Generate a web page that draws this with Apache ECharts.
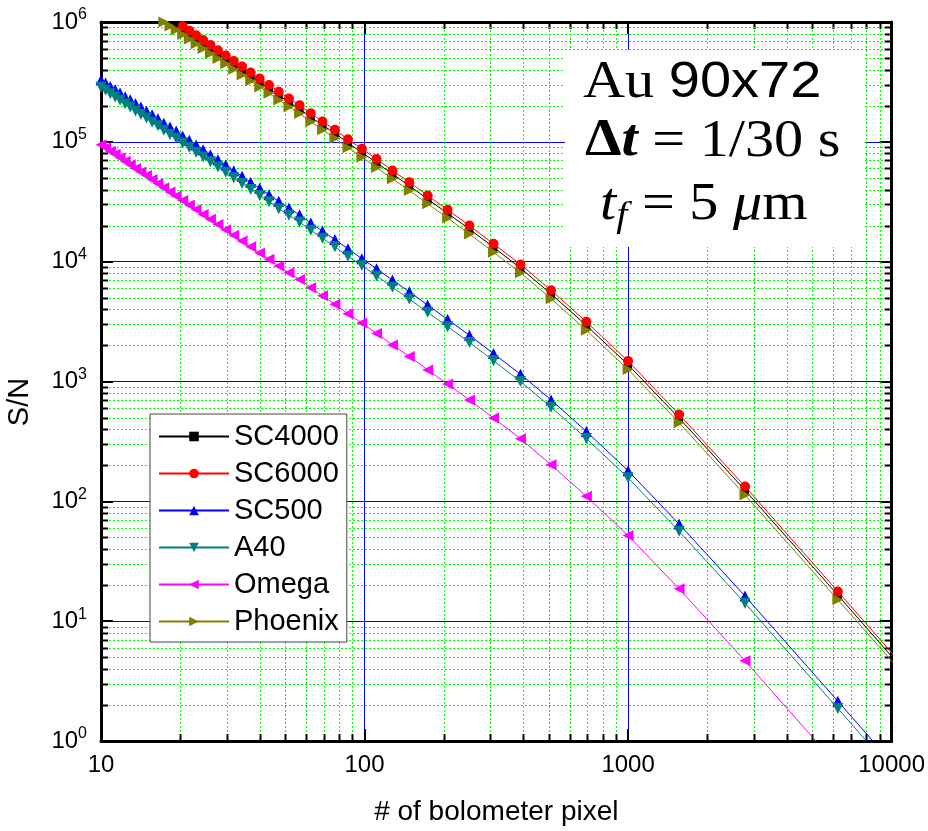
<!DOCTYPE html>
<html>
<head>
<meta charset="utf-8">
<script src="https://cdn.jsdelivr.net/npm/echarts@6/dist/echarts.min.js"></script>
<style>
    html, body { margin: 0; padding: 0; background: #fff; }
    #chart { width: 928px; height: 831px; }
</style>
</head>
<body>
<div id="chart"></div>
<script>
// # of bolometer pixel (x)
const pixels = [10, 10.41, 10.85, 11.32, 11.81, 12.35, 12.91, 13.52, 14.17, 14.87, 15.63, 16.44, 17.31, 18.26, 19.29,
    20.41, 21.63, 22.96, 24.41, 26.01, 27.78, 29.73, 31.89, 34.29, 36.98, 40, 43.4, 47.26, 51.65, 56.69, 62.5, 69.25,
    77.16, 86.51, 97.66, 111.1, 127.6, 147.9, 173.6, 206.6, 250, 308.6, 390.6, 510.2, 694.4, 1000, 1562, 2778, 6250, 25000];

// S/N for each camera
const sc4000 = [2.52e6, 2.37e6, 2.22e6, 2.09e6, 1.96e6, 1.83e6, 1.72e6, 1.60e6, 1.49e6, 1.39e6, 1.29e6, 1.19e6, 1.10e6, 1.02e6, 9.42e5,
    8.63e5, 7.90e5, 7.22e5, 6.59e5, 6.00e5, 5.43e5, 4.91e5, 4.41e5, 3.97e5, 3.54e5, 3.14e5, 2.78e5, 2.44e5, 2.15e5, 1.88e5, 1.61e5, 1.38e5,
    1.18e5, 9.80e4, 8.16e4, 6.70e4, 5.38e4, 4.30e4, 3.33e4, 2.53e4, 1.87e4, 1.32e4, 8840, 5380, 2940, 1380, 495, 124, 16.5, 0.51];
const sc6000 = [2.70e6, 2.54e6, 2.38e6, 2.24e6, 2.10e6, 1.96e6, 1.84e6, 1.71e6, 1.60e6, 1.49e6, 1.38e6, 1.28e6, 1.18e6, 1.09e6, 1.01e6,
    9.25e5, 8.47e5, 7.74e5, 7.06e5, 6.43e5, 5.82e5, 5.26e5, 4.73e5, 4.25e5, 3.79e5, 3.37e5, 2.98e5, 2.62e5, 2.30e5, 2.02e5, 1.73e5, 1.48e5,
    1.26e5, 1.05e5, 8.75e4, 7.18e4, 5.77e4, 4.61e4, 3.57e4, 2.71e4, 2.00e4, 1.41e4, 9480, 5770, 3150, 1480, 531, 133, 17.7, 0.55];
const sc500 = [3.28e5, 3.09e5, 2.89e5, 2.72e5, 2.55e5, 2.38e5, 2.24e5, 2.08e5, 1.95e5, 1.81e5, 1.68e5, 1.56e5, 1.43e5, 1.33e5, 1.23e5,
    1.12e5, 1.03e5, 9.41e4, 8.58e4, 7.82e4, 7.08e4, 6.40e4, 5.75e4, 5.17e4, 4.61e4, 4.10e4, 3.62e4, 3.19e4, 2.80e4, 2.46e4, 2.10e4, 1.80e4,
    1.53e4, 1.28e4, 1.06e4, 8730, 7020, 5610, 4340, 3300, 2430, 1710, 1150, 702, 383, 180, 64.6, 16.2, 2.15, 0.067];
const a40 = [2.86e5, 2.69e5, 2.52e5, 2.37e5, 2.22e5, 2.08e5, 1.95e5, 1.81e5, 1.69e5, 1.58e5, 1.46e5, 1.36e5, 1.25e5, 1.15e5, 1.07e5,
    9.80e4, 8.97e4, 8.20e4, 7.48e4, 6.81e4, 6.16e4, 5.57e4, 5.01e4, 4.50e4, 4.01e4, 3.57e4, 3.16e4, 2.77e4, 2.44e4, 2.14e4, 1.83e4, 1.57e4,
    1.33e4, 1.11e4, 9270, 7600, 6110, 4880, 3780, 2870, 2120, 1490, 1000, 611, 334, 157, 56.2, 14.1, 1.87, 0.058];
const omega = [9.47e4, 8.91e4, 8.35e4, 7.86e4, 7.37e4, 6.88e4, 6.45e4, 6.00e4, 5.61e4, 5.23e4, 4.84e4, 4.49e4, 4.14e4, 3.82e4, 3.54e4,
    3.24e4, 2.97e4, 2.72e4, 2.48e4, 2.26e4, 2.04e4, 1.85e4, 1.66e4, 1.49e4, 1.33e4, 1.18e4, 1.05e4, 9190, 8070, 7090, 6070, 5190,
    4420, 3680, 3070, 2520, 2020, 1620, 1250, 951, 702, 495, 333, 202, 110, 51.9, 18.6, 4.67, 0.62, 0.019];
const phoenix = [2.30e6, 2.16e6, 2.03e6, 1.91e6, 1.79e6, 1.67e6, 1.57e6, 1.46e6, 1.36e6, 1.27e6, 1.17e6, 1.09e6, 1.00e6, 9.28e5, 8.60e5,
    7.87e5, 7.21e5, 6.59e5, 6.01e5, 5.47e5, 4.95e5, 4.48e5, 4.03e5, 3.62e5, 3.23e5, 2.87e5, 2.54e5, 2.23e5, 1.96e5, 1.72e5, 1.47e5, 1.26e5,
    1.07e5, 8.94e4, 7.45e4, 6.11e4, 4.91e4, 3.92e4, 3.04e4, 2.31e4, 1.70e4, 1.20e4, 8070, 4910, 2680, 1260, 452, 113, 15.1, 0.47];

// minor grid positions (2..9 in every decade)
const xMinorTicks = [20, 30, 40, 50, 60, 70, 80, 90, 200, 300, 400, 500, 600, 700, 800, 900,
    2000, 3000, 4000, 5000, 6000, 7000, 8000, 9000];
const yMinorTicks = [2, 3, 4, 5, 6, 7, 8, 9, 20, 30, 40, 50, 60, 70, 80, 90, 200, 300, 400, 500, 600, 700, 800, 900,
    2e3, 3e3, 4e3, 5e3, 6e3, 7e3, 8e3, 9e3, 2e4, 3e4, 4e4, 5e4, 6e4, 7e4, 8e4, 9e4, 2e5, 3e5, 4e5, 5e5, 6e5, 7e5, 8e5, 9e5];

const seriesDefs = [
    { name: 'SC4000', data: sc4000, color: '#000000', symbol: 'rect', rotate: 0, size: 8 },
    { name: 'SC6000', data: sc6000, color: '#ff0000', symbol: 'circle', rotate: 0, size: 10 },
    { name: 'SC500', data: sc500, color: '#0000ff', symbol: 'triangle', rotate: 0, size: 11 },
    { name: 'A40', data: a40, color: '#008080', symbol: 'triangle', rotate: 180, size: 11 },
    { name: 'Omega', data: omega, color: '#ff00ff', symbol: 'triangle', rotate: 90, size: 11 },
    { name: 'Phoenix', data: phoenix, color: '#808000', symbol: 'triangle', rotate: -90, size: 11 }
];

const chart = echarts.init(document.getElementById('chart'));

const TICK_MINOR = 7;
const SANS = 'Liberation Sans, Arial, sans-serif';
const SERIF = 'Liberation Serif, Times New Roman, serif';

// minor green dotted grid + short inward ticks on all four sides
function renderMinorX(params, api) {
    const cs = params.coordSys;
    const x = Math.round(api.coord([api.value(0), 10])[0]) + 0.5;
    const top = cs.y, bottom = cs.y + cs.height;
    return {
        type: 'group',
        children: [
            { type: 'line', shape: { x1: x, y1: top, x2: x, y2: bottom }, style: { stroke: '#00ff00', lineWidth: 1, lineDash: [2, 2] } },
            { type: 'line', shape: { x1: x, y1: bottom, x2: x, y2: bottom - TICK_MINOR }, style: { stroke: '#000', lineWidth: 2 } },
            { type: 'line', shape: { x1: x, y1: top, x2: x, y2: top + TICK_MINOR }, style: { stroke: '#000', lineWidth: 2 } }
        ]
    };
}
function renderMinorY(params, api) {
    const cs = params.coordSys;
    const y = Math.round(api.coord([100, api.value(1)])[1]) + 0.5;
    const left = cs.x, right = cs.x + cs.width;
    return {
        type: 'group',
        children: [
            { type: 'line', shape: { x1: left, y1: y, x2: right, y2: y }, style: { stroke: '#00ff00', lineWidth: 1, lineDash: [2, 2] } },
            { type: 'line', shape: { x1: left, y1: y, x2: left + TICK_MINOR, y2: y }, style: { stroke: '#000', lineWidth: 2 } },
            { type: 'line', shape: { x1: right, y1: y, x2: right - TICK_MINOR, y2: y }, style: { stroke: '#000', lineWidth: 2 } }
        ]
    };
}

const series = [
    {
        type: 'custom', name: 'minorX', silent: true, renderItem: renderMinorX,
        data: xMinorTicks.map(v => [v, 10]), encode: { x: 0, y: 1 }
    },
    {
        type: 'custom', name: 'minorY', silent: true, renderItem: renderMinorY,
        data: yMinorTicks.map(v => [100, v]), encode: { x: 0, y: 1 }
    }
];
seriesDefs.forEach(s => {
    series.push({
        type: 'line',
        name: s.name,
        data: pixels.map((p, i) => [p, s.data[i]]),
        symbol: s.symbol,
        symbolSize: s.size,
        symbolRotate: s.rotate,
        showAllSymbol: true,
        clip: true,
        color: s.color,
        lineStyle: { width: 1, color: s.color },
        itemStyle: { color: s.color },
        emphasis: { disabled: true }
    });
});

const axisLine = { show: true, onZero: false, lineStyle: { color: '#000', width: 3 } };
const majorTick = { show: true, inside: true, length: 12, lineStyle: { color: '#000', width: 2 } };
const blueSplit = { show: true, lineStyle: { color: '#0000ff', width: 1, type: 'solid' } };

chart.setOption({
    animation: false,
    backgroundColor: '#ffffff',
    grid: { left: 101, right: 35, top: 22, bottom: 89, containLabel: false },
    xAxis: [
        {
            type: 'log', logBase: 10, min: 10, max: 10000, position: 'bottom',
            axisLine: axisLine, axisTick: majorTick, splitLine: blueSplit, minorTick: { show: false },
            axisLabel: {
                margin: 12, color: '#000', fontSize: 24, fontFamily: SANS,
                formatter: v => String(Math.round(v))
            },
            name: '# of bolometer pixel', nameLocation: 'middle', nameGap: 57,
            nameTextStyle: { fontSize: 28, color: '#000', fontFamily: SANS }
        },
        {
            type: 'log', logBase: 10, min: 10, max: 10000, position: 'top',
            axisLine: axisLine, axisTick: majorTick, splitLine: { show: false }, axisLabel: { show: false }
        }
    ],
    yAxis: [
        {
            type: 'log', logBase: 10, min: 1, max: 1e6, position: 'left',
            axisLine: axisLine, axisTick: majorTick, splitLine: blueSplit,
            axisLabel: {
                margin: 14, color: '#000',
                formatter: v => '{b|10}{s|' + Math.round(Math.log10(v)) + '}',
                rich: {
                    b: { fontSize: 24, lineHeight: 30, fontFamily: SANS, color: '#000' },
                    s: { fontSize: 16, lineHeight: 12, verticalAlign: 'top', fontFamily: SANS, color: '#000' }
                }
            }
        },
        {
            type: 'log', logBase: 10, min: 1, max: 1e6, position: 'right',
            axisLine: axisLine, axisTick: majorTick, splitLine: { show: false }, axisLabel: { show: false }
        }
    ],
    legend: {
        orient: 'vertical',
        left: 150,
        top: 414,
        data: seriesDefs.map(s => s.name),
        itemWidth: 70,
        itemHeight: 12,
        itemGap: 8,
        padding: [8, 8, 6, 8],
        backgroundColor: '#ffffff',
        borderColor: '#444',
        borderWidth: 1,
        borderRadius: 0,
        selectedMode: false,
        textStyle: { fontSize: 29, color: '#000', fontFamily: SANS }
    },
    graphic: [
        {
            type: 'text', x: 20, y: 402, rotation: Math.PI / 2, z: 10,
            style: {
                text: 'S/N', fontSize: 29, fill: '#000', fontFamily: SANS,
                align: 'center', verticalAlign: 'middle'
            }
        },
        {
            type: 'rect', x: 565, y: 50, z: 10, shape: { width: 300, height: 197 }, style: { fill: '#ffffff' }
        },
        {
            type: 'text', x: 583, y: 83, scaleX: 1.12, z: 11,
            style: {
                text: '{a|Au }{b|90x72}', verticalAlign: 'middle',
                rich: {
                    a: { fontSize: 52, fontFamily: SERIF, fill: '#000' },
                    b: { fontSize: 50, fontFamily: SANS, fill: '#000' }
                }
            }
        },
        {
            type: 'text', x: 585, y: 142, scaleX: 1.12, z: 11,
            style: {
                text: '{d|Δ}{t|t}{r| = 1/30 s}', verticalAlign: 'middle',
                rich: {
                    d: { fontSize: 52, fontWeight: 'bold', fontFamily: SERIF, fill: '#000' },
                    t: { fontSize: 52, fontWeight: 'bold', fontStyle: 'italic', fontFamily: SERIF, fill: '#000' },
                    r: { fontSize: 52, fontFamily: SERIF, fill: '#000' }
                }
            }
        },
        {
            type: 'text', x: 600, y: 205, scaleX: 1.12, z: 11,
            style: {
                text: '{t|t}{f|f}{r| = 5 }{mu|μ}{m|m}', verticalAlign: 'middle',
                rich: {
                    t: { fontSize: 52, lineHeight: 60, fontStyle: 'italic', fontFamily: SERIF, fill: '#000' },
                    f: { fontSize: 36, lineHeight: 30, verticalAlign: 'bottom', fontStyle: 'italic', fontFamily: SERIF, fill: '#000' },
                    r: { fontSize: 52, lineHeight: 60, fontFamily: SERIF, fill: '#000' },
                    mu: { fontSize: 52, lineHeight: 60, fontStyle: 'italic', fontFamily: SERIF, fill: '#000' },
                    m: { fontSize: 52, lineHeight: 60, fontFamily: SERIF, fill: '#000' }
                }
            }
        }
    ],
    series: series
});
</script>
</body>
</html>
